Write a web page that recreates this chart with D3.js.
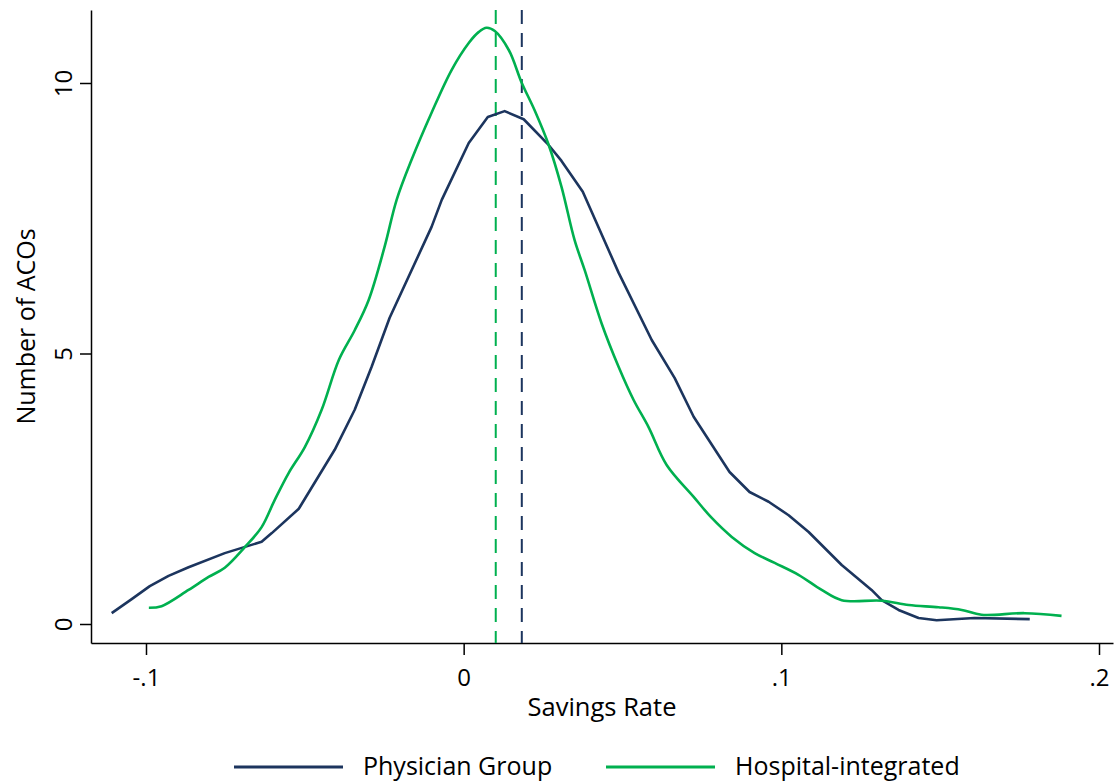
<!DOCTYPE html>
<html>
<head>
<meta charset="utf-8">
<script src="https://cdn.jsdelivr.net/npm/d3@7"></script>
<style>
  body { margin: 0; background: #fff; }
  text { font-family: "Open Sans", "Noto Sans", sans-serif; fill: #000; }
</style>
</head>
<body>
<svg id="chart" width="1115" height="782"></svg>
<script>
// ---------- data ----------
const physicianX = [-0.1108,-0.1045,-0.0988,-0.0929,-0.0866,-0.0752,-0.0636,-0.0604,-0.0519,-0.0406,-0.0343,-0.0290,-0.0233,-0.0101,-0.0069,0.0016,0.0076,0.0129,0.0189,0.0268,0.0308,0.0375,0.0488,0.0592,0.0664,0.0724,0.0837,0.0900,0.0960,0.1023,0.1086,0.1190,0.1284,0.1316,0.1369,0.1432,0.1489,0.1608,0.1782];
const physicianY = [0.20,0.46,0.70,0.89,1.05,1.31,1.52,1.68,2.13,3.22,3.96,4.75,5.66,7.34,7.84,8.89,9.37,9.48,9.33,8.85,8.56,7.99,6.49,5.25,4.55,3.83,2.81,2.44,2.26,2.01,1.70,1.09,0.63,0.44,0.26,0.11,0.07,0.11,0.09];

const hospitalX = [-0.0991,-0.0951,-0.0866,-0.0803,-0.0752,-0.0689,-0.0636,-0.0595,-0.0551,-0.0500,-0.0447,-0.0393,-0.0343,-0.0299,-0.0249,-0.0211,-0.0164,-0.0101,-0.0038,0.0016,0.0047,0.0072,0.0098,0.0142,0.0183,0.0223,0.0268,0.0308,0.0349,0.0381,0.0434,0.0488,0.0535,0.0582,0.0639,0.0724,0.0781,0.0844,0.0916,0.0979,0.1054,0.1127,0.1190,0.1316,0.1401,0.1495,0.1568,0.1630,0.1766,0.1882];
const hospitalY = [0.30,0.33,0.63,0.87,1.04,1.42,1.79,2.29,2.79,3.27,3.96,4.88,5.43,5.99,6.97,7.84,8.58,9.45,10.24,10.74,10.94,11.02,10.96,10.61,10.00,9.50,8.85,8.08,7.10,6.54,5.56,4.75,4.14,3.64,2.94,2.35,1.96,1.61,1.31,1.13,0.91,0.63,0.44,0.43,0.35,0.31,0.26,0.17,0.20,0.15];

const meanPhysician = 0.0183;
const meanHospital = 0.0101;

const xTickValues = [-0.1, 0, 0.1, 0.2];
const xTickLabels = ["-.1", "0", ".1", ".2"];
const yTickValues = [0, 5, 10];
const yTickLabels = ["0", "5", "10"];

const seriesNames = ["Physician Group", "Hospital-integrated"];
const colors = ["#1c355e", "#00b04f"];

// ---------- drawing ----------
const svg = d3.select("#chart");
const plotLeft = 91, plotRight = 1113, plotTop = 10, plotBottom = 643;

const x = d3.scaleLinear()
  .domain([-0.1 - (146 - plotLeft) / 3177, 0.2 + (plotRight - 1099) / 3177])
  .range([plotLeft, plotRight]);
const y = d3.scaleLinear()
  .domain([-(plotBottom - 624) / 54.1, (624 - plotTop) / 54.1])
  .range([plotBottom, plotTop]);

// axes
const xAxis = d3.axisBottom(x).tickValues(xTickValues)
  .tickFormat((d, i) => xTickLabels[i]).tickSizeInner(12).tickSizeOuter(0).tickPadding(14);
const gx = svg.append("g").attr("transform", `translate(0,${plotBottom})`).call(xAxis);
gx.selectAll("path.domain").attr("stroke", "#000").attr("stroke-width", 1.5);
gx.selectAll(".tick line").attr("stroke", "#000").attr("stroke-width", 1.5);
gx.selectAll(".tick text").style("font-size", "24px").attr("fill", "#000")
  .style("font-family", '"Open Sans", sans-serif');

const yAxis = d3.axisLeft(y).tickValues(yTickValues)
  .tickFormat((d, i) => yTickLabels[i]).tickSizeInner(11).tickSizeOuter(0);
const gy = svg.append("g").attr("transform", `translate(${plotLeft},0)`).call(yAxis);
gy.selectAll("path.domain").attr("stroke", "#000").attr("stroke-width", 1.5);
gy.selectAll(".tick line").attr("stroke", "#000").attr("stroke-width", 1.5);
gy.selectAll(".tick text")
  .attr("x", null).attr("dy", null)
  .attr("transform", "translate(-29,0) rotate(-90)")
  .attr("text-anchor", "middle")
  .attr("dominant-baseline", "central")
  .style("font-size", "24px").attr("fill", "#000")
  .style("font-family", '"Open Sans", sans-serif');

// axis titles
svg.append("text").attr("x", (plotLeft + plotRight) / 2).attr("y", 706)
  .attr("text-anchor", "middle").attr("dominant-baseline", "central")
  .style("font-size", "25.5px").text("Savings Rate");
svg.append("text").attr("transform", `translate(25,${(plotTop + plotBottom) / 2}) rotate(-90)`)
  .attr("text-anchor", "middle").attr("dominant-baseline", "central")
  .style("font-size", "25px").text("Number of ACOs");

// mean dashed lines
[[meanHospital, colors[1]], [meanPhysician, colors[0]]].forEach(([m, c]) => {
  svg.append("line").attr("x1", x(m)).attr("x2", x(m))
    .attr("y1", y.range()[1]).attr("y2", y.range()[0])
    .attr("stroke", c).attr("stroke-width", 2).attr("stroke-dasharray", "14,9");
});

// curves
const physData = physicianX.map((v, i) => [v, physicianY[i]]);
const hospData = hospitalX.map((v, i) => [v, hospitalY[i]]);

svg.append("path").datum(physData)
  .attr("d", d3.line().x(d => x(d[0])).y(d => y(d[1])).curve(d3.curveLinear))
  .attr("fill", "none").attr("stroke", colors[0]).attr("stroke-width", 2.6)
  .attr("stroke-linejoin", "round");
svg.append("path").datum(hospData)
  .attr("d", d3.line().x(d => x(d[0])).y(d => y(d[1])).curve(d3.curveCatmullRom.alpha(0.5)))
  .attr("fill", "none").attr("stroke", colors[1]).attr("stroke-width", 2.6)
  .attr("stroke-linejoin", "round");

// legend
const legendItems = [
  { name: seriesNames[0], color: colors[0], x0: 234 },
  { name: seriesNames[1], color: colors[1], x0: 606 }
];
legendItems.forEach(it => {
  svg.append("line").attr("x1", it.x0).attr("x2", it.x0 + 109)
    .attr("y1", 767).attr("y2", 767)
    .attr("stroke", it.color).attr("stroke-width", 3);
  svg.append("text").attr("x", it.x0 + 129).attr("y", 765)
    .attr("dominant-baseline", "central")
    .style("font-size", "25px").text(it.name);
});
</script>
</body>
</html>
